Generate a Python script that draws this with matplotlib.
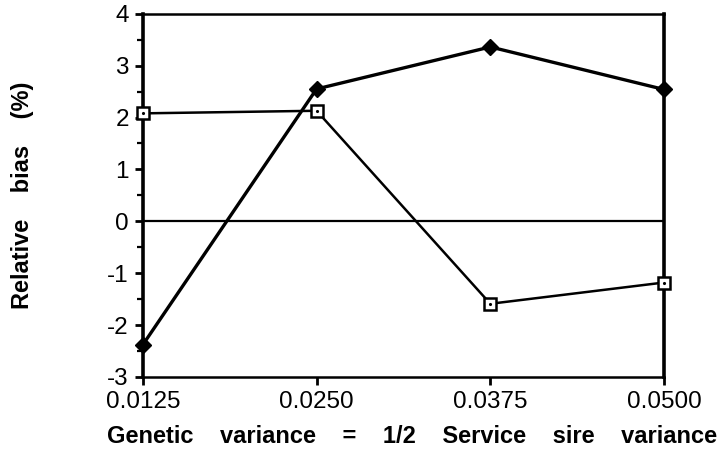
import matplotlib
matplotlib.use("Agg")
import matplotlib.pyplot as plt

# Data
variance = [0.0125, 0.0250, 0.0375, 0.0500]
xtick_labels = ["0.0125", "0.0250", "0.0375", "0.0500"]
bias_diamond = [-2.38, 2.55, 3.36, 2.54]
bias_square = [2.08, 2.13, -1.59, -1.18]

plt.rcParams["font.family"] = ["Liberation Sans", "DejaVu Sans"]
plt.rcParams["axes.unicode_minus"] = False

fig = plt.figure(figsize=(7.25, 4.58), dpi=100)
ax = fig.add_axes([0.197, 0.177, 0.719, 0.793])

ax.axhline(0, color="black", linewidth=1.6, zorder=1)

ax.plot(variance, bias_square, "-", color="black", linewidth=1.8, zorder=2)
ax.plot(variance, bias_square, "s", color="black", markersize=9,
        markerfacecolor="white", markeredgewidth=1.8, zorder=3, clip_on=False)
ax.plot(variance, bias_square, ".", color="black", markersize=2.5, zorder=4,
        clip_on=False)
ax.plot(variance, bias_diamond, "-D", color="black", linewidth=2.4,
        markersize=8, zorder=3, clip_on=False)

ax.set_xlim(0.0125, 0.0500)
ax.set_ylim(-3, 4)
ax.set_xticks(variance)
ax.set_xticklabels(xtick_labels)
ax.set_yticks(range(-3, 5))
ax.set_yticks([v + 0.5 for v in range(-3, 4)], minor=True)

for side in ["left", "right"]:
    ax.spines[side].set_linewidth(2.6)
for side in ["top", "bottom"]:
    ax.spines[side].set_linewidth(1.8)

ax.tick_params(axis="both", which="major", direction="out", length=6, width=2,
               labelsize=17.5, pad=4)
ax.tick_params(axis="y", which="minor", direction="out", length=4, width=1.6)

ax.set_xlabel("Genetic    variance    =    1/2    Service    sire    variance",
              fontsize=17, fontweight="bold", labelpad=9)
ax.xaxis.label.set_x(0.516)
ax.set_ylabel("Relative    bias    (%)", fontsize=17, fontweight="bold",
              labelpad=53)

fig.savefig("out.png", dpi=100)
